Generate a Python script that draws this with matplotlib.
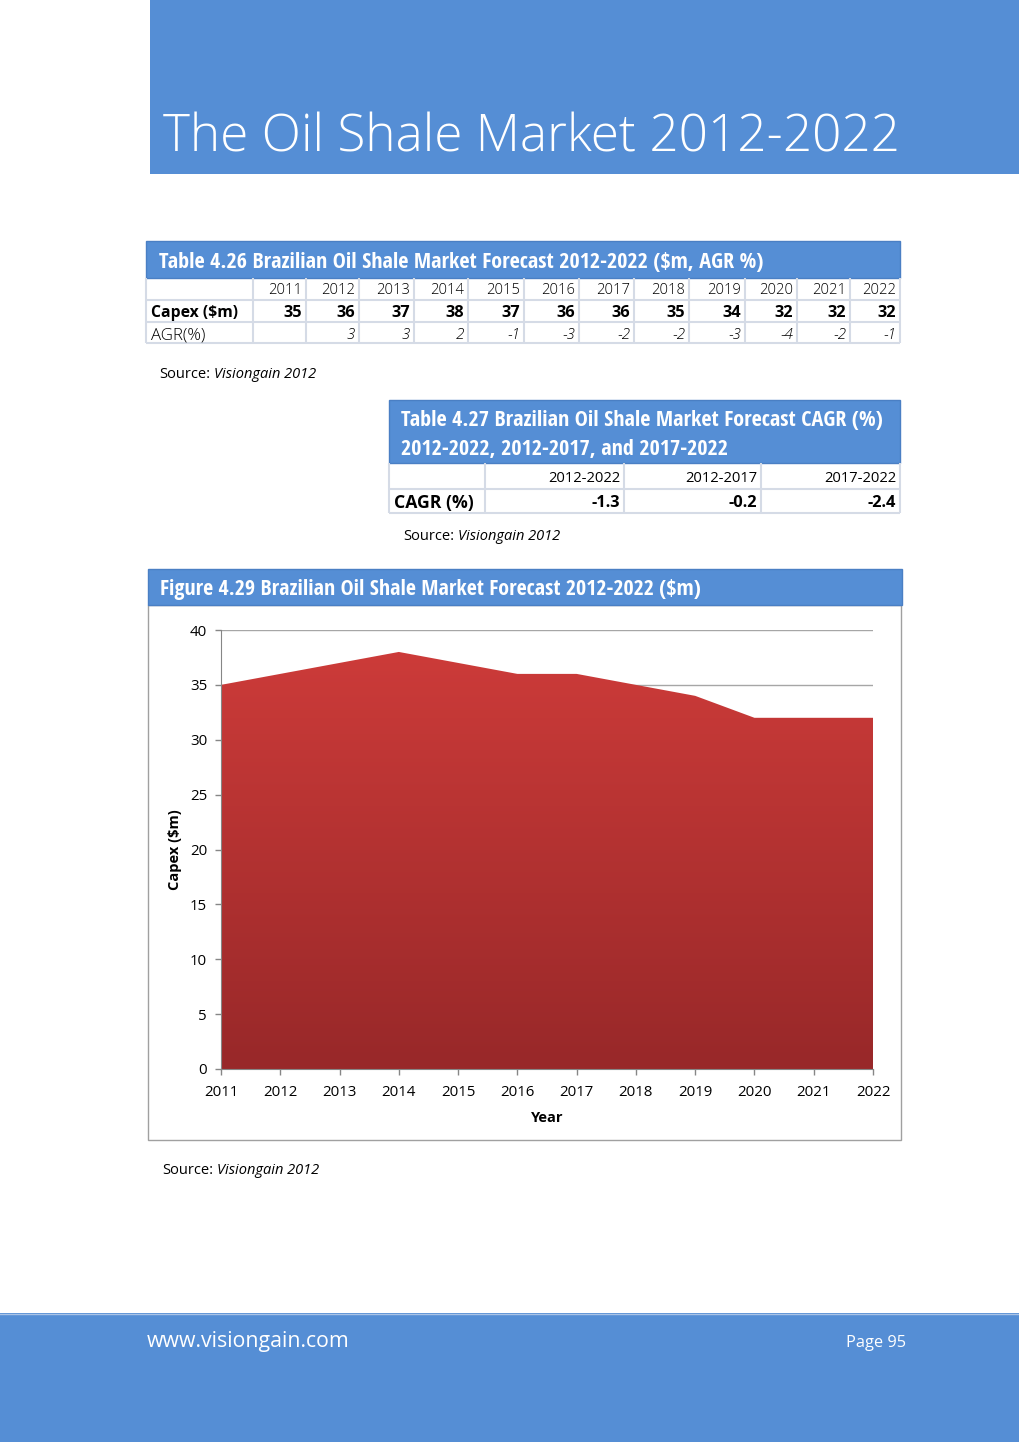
import matplotlib
matplotlib.use("Agg")
import matplotlib.pyplot as plt
import numpy as np
from matplotlib.patches import Rectangle
from matplotlib.colors import LinearSegmentedColormap

# data
years = [2011, 2012, 2013, 2014, 2015, 2016, 2017, 2018, 2019, 2020, 2021, 2022]
capex = [35, 36, 37, 38, 37, 36, 36, 35, 34, 32, 32, 32]
agr = ["", "3", "3", "2", "-1", "-3", "-2", "-2", "-3", "-4", "-2", "-1"]
cagr_periods = ["2012-2022", "2012-2017", "2017-2022"]
cagr_values = [-1.3, -0.2, -2.4]

BLUE = "#558ED5"
EDGE = "#4A7FC4"
GRIDC = "#D5DBE6"
OS = "Open Sans"

fig = plt.figure(figsize=(10.2, 14.42), dpi=100)
page = fig.add_axes([0, 0, 1, 1])
page.set_xlim(0, 1020)
page.set_ylim(1442, 0)
page.axis("off")
rend = fig.canvas.get_renderer()


def put(x, y, s, width=None, size=10, **kw):
    kw.setdefault("va", "center")
    kw.setdefault("family", OS)
    if kw["va"] == "center":
        y += 2  # open sans sits a bit high when centred
    t = page.text(x, y, s, fontsize=size, **kw)
    if width:
        w = t.get_window_extent(rend).width
        t.set_fontsize(size * width / w)
    return t


def box(x0, y0, x1, y1, **kw):
    page.add_patch(Rectangle((x0, y0), x1 - x0, y1 - y0, **kw))


def source(x, y, size=10.5):
    t = put(x, y, "Source:", size=size, color="black")
    w = t.get_window_extent(rend).width
    put(x + w + 4, y, "Visiongain 2012", size=size, style="italic", color="black")


# page header
box(150, 0, 1020, 174, facecolor=BLUE, edgecolor="none")
put(163, 152, "The Oil Shale Market 2012-2022", width=735, size=40, va="baseline",
    color="white", weight=300)

# table 4.26
box(146, 241, 900, 278, facecolor=BLUE, edgecolor=EDGE, lw=1)
put(159, 260, "Table 4.26 Brazilian Oil Shale Market Forecast 2012-2022 ($m, AGR %)",
    width=608, size=14, color="white", family="Open Sans Condensed", weight=700)
col_edges = [146, 253, 306, 359, 414, 468, 524, 579, 634, 689, 745, 797, 850, 900]
row_edges = [278, 300, 322, 343]
for xe in col_edges:
    page.plot([xe, xe], [278, 343], color=GRIDC, lw=1.5, solid_capstyle="butt")
for ye in row_edges[1:]:
    page.plot([146, 900], [ye, ye], color=GRIDC, lw=1.5, solid_capstyle="butt")
rows_y = [289, 311, 333]
put(151, rows_y[1], "Capex ($m)", width=87, size=11.5, weight="bold")
put(151, rows_y[2], "AGR(%)", width=55, size=11, weight=300)
for i, yr in enumerate(years):
    xr = col_edges[i + 2] - 4
    put(xr, rows_y[0], str(yr), size=10.6, ha="right", weight=300)
    put(xr, rows_y[1], str(capex[i]), size=11.8, ha="right", weight="bold")
    put(xr, rows_y[2], agr[i], size=11, ha="right", style="italic", weight=300)
source(159, 373)

# table 4.27
box(389, 400, 900, 463, facecolor=BLUE, edgecolor=EDGE, lw=1)
t1 = put(401, 418, "Table 4.27 Brazilian Oil Shale Market Forecast CAGR (%)", width=485, size=14,
         color="white", family="Open Sans Condensed", weight=700)
put(401, 447, "2012-2022, 2012-2017, and 2017-2022", size=t1.get_fontsize(),
    color="white", family="Open Sans Condensed", weight=700)
c_edges = [389, 485, 624, 761, 900]
for xe in c_edges:
    page.plot([xe, xe], [463, 513], color=GRIDC, lw=1.5, solid_capstyle="butt")
for ye in [489, 513]:
    page.plot([389, 900], [ye, ye], color=GRIDC, lw=1.5, solid_capstyle="butt")
put(394, 501, "CAGR (%)", width=80, size=11.5, weight="bold")
for i, p in enumerate(cagr_periods):
    xr = c_edges[i + 2] - 4
    put(xr, 477, p, size=10.6, ha="right", weight=400)
    put(xr, 501, "%.1f" % cagr_values[i], size=11.8, ha="right", weight="bold")
source(403, 534)

# figure 4.29 frame
box(148, 605, 901, 1140, facecolor="white", edgecolor="#A0A0A0", lw=1)
box(148, 569, 902, 605, facecolor=BLUE, edgecolor=EDGE, lw=1)
put(160, 587, "Figure 4.29 Brazilian Oil Shale Market Forecast 2012-2022 ($m)", width=545, size=14,
    color="white", family="Open Sans Condensed", weight=700)
source(162, 1168)

# footer
box(0, 1313, 1020, 1442, facecolor=BLUE, edgecolor="none")
page.plot([0, 1020], [1313.5, 1313.5], color="#A9C3E6", lw=1)
put(147, 1340, "www.visiongain.com", width=202, size=15, color="white", weight=400)
put(846, 1341, "Page 95", width=60, size=11, color="white")

# chart
ax = fig.add_axes([221 / 1020, (1442 - 1069) / 1442, 652 / 1020, 439 / 1442])
ax.set_xlim(years[0], years[-1])
ax.set_ylim(0, 40)
ax.set_facecolor("none")
ax.set_yticks(range(0, 41, 5))
ax.set_xticks(years)
ax.grid(axis="y", color="#A6A6A6", lw=1)
ax.set_axisbelow(True)

poly = ax.fill_between(years, capex, 0, facecolor="none", edgecolor="none")
cmap = LinearSegmentedColormap.from_list("red", ["#982829", "#CF3C3A"])
grad = np.linspace(0, 1, 256).reshape(-1, 1)
img = ax.imshow(grad, cmap=cmap, origin="lower", aspect="auto",
                extent=[years[0], years[-1], 0, 40], zorder=2)
img.set_clip_path(poly.get_paths()[0], transform=ax.transData)

for s in ["top", "right"]:
    ax.spines[s].set_visible(False)
for s in ["left", "bottom"]:
    ax.spines[s].set_color("#868686")
    ax.spines[s].set_zorder(3)
ax.tick_params(axis="both", colors="#868686", labelcolor="black", length=4, width=1,
               labelsize=10.8, pad=6)
ax.tick_params(axis="x", pad=7.5)
for lab in ax.get_xticklabels() + ax.get_yticklabels():
    lab.set_family(OS)
ax.set_xlabel("Year", family=OS, weight="bold", fontsize=10.5, labelpad=8)
ax.set_ylabel("Capex ($m)", family=OS, weight="bold", fontsize=10.5, labelpad=6)

fig.savefig("out.png", dpi=100)
